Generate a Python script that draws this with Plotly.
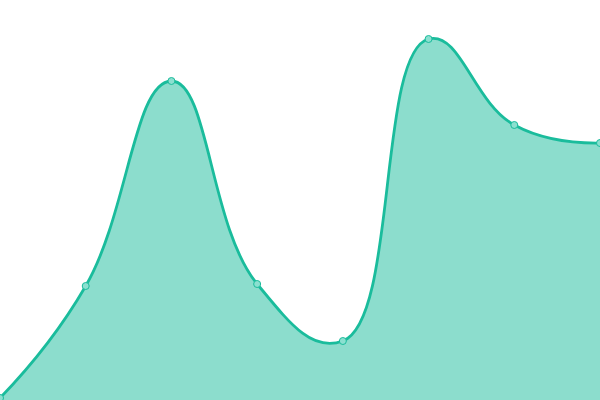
import plotly.graph_objects as go

# Datos (escala 0-400)
x_vals = [0, 1, 2, 3, 4, 5, 6, 7]
y_vals = [2, 114, 319, 116, 59, 361, 275, 257]

fig = go.Figure()
fig.add_trace(go.Scatter(
    x=x_vals,
    y=y_vals,
    mode="lines+markers",
    line=dict(color="#1abc9c", width=2.8, shape="spline", smoothing=1.3),
    marker=dict(size=7, color="#8be0d0", line=dict(color="#1abc9c", width=1)),
    fill="tozeroy",
    fillcolor="rgba(26,188,156,0.5)",
    hoverinfo="skip",
))

# Ejes ocultos, el área ocupa todo el lienzo
fig.update_layout(
    width=600,
    height=400,
    margin=dict(l=0, r=0, t=0, b=0),
    paper_bgcolor="white",
    plot_bgcolor="white",
    showlegend=False,
    xaxis=dict(visible=False, range=[0, 7], fixedrange=True),
    yaxis=dict(visible=False, range=[0, 400], fixedrange=True),
)

# Quitar el margen del body para que el gráfico ocupe la ventana
fig.write_html("out.html", config={"displayModeBar": False},
               post_script="document.body.style.margin='0';document.body.style.overflow='hidden';")
